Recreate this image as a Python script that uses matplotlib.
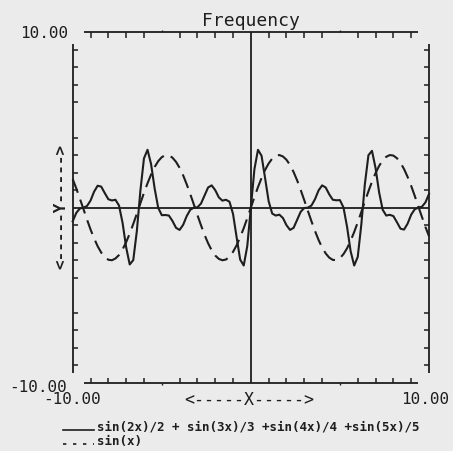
import matplotlib
matplotlib.use('Agg')
import matplotlib.pyplot as plt
from matplotlib.lines import Line2D

# sample positions along x
x_vals = [-10.0, -9.8, -9.6, -9.4, -9.2, -9.0, -8.8, -8.6, -8.4, -8.2,
          -8.0, -7.8, -7.6, -7.4, -7.2, -7.0, -6.8, -6.6, -6.4, -6.2,
          -6.0, -5.8, -5.6, -5.4, -5.2, -5.0, -4.8, -4.6, -4.4, -4.2,
          -4.0, -3.8, -3.6, -3.4, -3.2, -3.0, -2.8, -2.6, -2.4, -2.2,
          -2.0, -1.8, -1.6, -1.4, -1.2, -1.0, -0.8, -0.6, -0.4, -0.2,
          0.0, 0.2, 0.4, 0.6, 0.8, 1.0, 1.2, 1.4, 1.6, 1.8,
          2.0, 2.2, 2.4, 2.6, 2.8, 3.0, 3.2, 3.4, 3.6, 3.8,
          4.0, 4.2, 4.4, 4.6, 4.8, 5.0, 5.2, 5.4, 5.6, 5.8,
          6.0, 6.2, 6.4, 6.6, 6.8, 7.0, 7.2, 7.4, 7.6, 7.8,
          8.0, 8.2, 8.4, 8.6, 8.8, 9.0, 9.2, 9.4, 9.6, 9.8, 10.0]

# solid curve: sin(2x)/2 + sin(3x)/3 + sin(4x)/4 + sin(5x)/5
sum_vals = [-0.78, -0.30, -0.05, 0.00, 0.09, 0.40, 0.91, 1.25, 1.20, 0.83,
            0.48, 0.41, 0.45, 0.12, -0.87, -2.26, -3.24, -2.99, -1.34, 0.97,
            2.81, 3.30, 2.48, 1.09, -0.01, -0.43, -0.42, -0.45, -0.76, -1.15,
            -1.27, -0.98, -0.48, -0.12, 0.00, 0.02, 0.23, 0.69, 1.15, 1.27,
            1.00, 0.59, 0.40, 0.45, 0.34, -0.36, -1.68, -2.96, -3.30, -2.19,
            0.00, 2.19, 3.30, 2.96, 1.68, 0.36, -0.34, -0.45, -0.40, -0.59,
            -1.00, -1.27, -1.15, -0.69, -0.23, -0.02, 0.00, 0.12, 0.48, 0.98,
            1.27, 1.15, 0.76, 0.45, 0.42, 0.43, 0.01, -1.09, -2.48, -3.30,
            -2.81, -0.97, 1.34, 2.99, 3.24, 2.26, 0.87, -0.12, -0.45, -0.41,
            -0.48, -0.83, -1.20, -1.25, -0.91, -0.40, -0.09, 0.00, 0.05, 0.30, 0.78]

# dashed curve: sin(x)
sin_vals = [1.63, 1.10, 0.52, -0.07, -0.67, -1.24, -1.75, -2.20, -2.56, -2.82,
            -2.97, -3.00, -2.90, -2.70, -2.38, -1.97, -1.48, -0.93, -0.35, 0.25,
            0.84, 1.39, 1.89, 2.32, 2.65, 2.88, 2.99, 2.98, 2.85, 2.61,
            2.27, 1.84, 1.33, 0.77, 0.18, -0.42, -1.00, -1.55, -2.03, -2.43,
            -2.73, -2.92, -3.00, -2.96, -2.80, -2.52, -2.15, -1.69, -1.17, -0.60,
            0.00, 0.60, 1.17, 1.69, 2.15, 2.52, 2.80, 2.96, 3.00, 2.92,
            2.73, 2.43, 2.03, 1.55, 1.00, 0.42, -0.18, -0.77, -1.33, -1.84,
            -2.27, -2.61, -2.85, -2.98, -2.99, -2.88, -2.65, -2.32, -1.89, -1.39,
            -0.84, -0.25, 0.35, 0.93, 1.48, 1.97, 2.38, 2.70, 2.90, 3.00,
            2.97, 2.82, 2.56, 2.20, 1.75, 1.24, 0.67, 0.07, -0.52, -1.10, -1.63]

tick_pos = [-9, -8, -7, -6, -4, -3, -2, -1, 1, 2, 3, 4, 6, 7, 8, 9]
mid_ticks = [-5, 5]

title = 'Frequency'
x_label = '<-----X----->'
y_label = '<-----Y----->'
legend_labels = ['sin(2x)/2 + sin(3x)/3 +sin(4x)/4 +sin(5x)/5', 'sin(x)']

W, H = 453, 451
bg = '#ebebeb'
ink = '#1e1e1e'
mono = 'DejaVu Sans Mono'


def fx(px):
    return px / W


def fy(py):
    return 1 - py / H


fig = plt.figure(figsize=(W / 100, H / 100), dpi=100)
fig.patch.set_facecolor(bg)

ax = fig.add_axes([fx(72.7), fy(383), (429 - 72.7) / W, (383 - 32.3) / H])
ax.set_xlim(-10, 10)
ax.set_ylim(-10, 10)
ax.axis('off')

# frame lines (broken near the corners, like the plotter output)
kw = dict(color=ink, lw=1.3, clip_on=False, solid_capstyle='butt')
ax.plot([-9.38, 9.38], [10, 10], **kw)
ax.plot([-9.38, 9.38], [-10, -10], **kw)
ax.plot([-10, -10], [-9.45, 9.35], **kw)
ax.plot([10, 10], [-9.45, 9.35], **kw)
# centre axes
ax.plot([0, 0], [-10, 10], **kw)
ax.plot([-10, 10], [0, 0], **kw)

# inward ticks
tl = 0.3
ax.vlines(tick_pos, 10 - tl, 10, color=ink, lw=1.1, clip_on=False)
ax.vlines(tick_pos, -10, -10 + tl, color=ink, lw=1.1, clip_on=False)
ax.hlines(tick_pos, -10, -10 + tl, color=ink, lw=1.1, clip_on=False)
ax.hlines(tick_pos, 10 - tl, 10, color=ink, lw=1.1, clip_on=False)
# tiny outward marks at +-5
ax.vlines(mid_ticks, 10, 10 + 0.12, color=ink, lw=1.0, clip_on=False)
ax.vlines(mid_ticks, -10 - 0.12, -10, color=ink, lw=1.0, clip_on=False)

# curves
ax.plot(x_vals, sum_vals, color=ink, lw=1.5, clip_on=False)
ax.plot(x_vals, sin_vals, color=ink, lw=1.5, dashes=(7, 3.5), clip_on=False)

# texts
fig.text(fx(251), fy(21), title, ha='center', va='center', fontsize=13, family=mono, color=ink)
fig.text(fx(68), fy(34), '10.00', ha='right', va='center', fontsize=11.5, family=mono, color=ink)
fig.text(fx(67), fy(387), '-10.00', ha='right', va='center', fontsize=11.5, family=mono, color=ink)
fig.text(fx(72), fy(400), '-10.00', ha='center', va='center', fontsize=11.5, family=mono, color=ink)
fig.text(fx(425), fy(400), '10.00', ha='center', va='center', fontsize=11.5, family=mono, color=ink)
fig.text(fx(249), fy(400), x_label, ha='center', va='center', fontsize=12, family=mono, color=ink)
fig.text(fx(61), fy(206), y_label, ha='center', va='center', rotation=90, fontsize=11.5,
         family=mono, weight='bold', color=ink)

# legend under the plot
fig.add_artist(Line2D([fx(63), fx(94)], [fy(430), fy(430)], color=ink, lw=1.2,
                      transform=fig.transFigure))
fig.text(fx(97), fy(427), legend_labels[0], ha='left', va='center', fontsize=9,
         family=mono, weight='bold', color=ink)
fig.add_artist(Line2D([fx(63), fx(94)], [fy(444), fy(444)], color=ink, lw=1.2,
                      dashes=(2, 4), transform=fig.transFigure))
fig.text(fx(97), fy(441), legend_labels[1], ha='left', va='center', fontsize=9,
         family=mono, weight='bold', color=ink)

fig.savefig('out.png', dpi=100, facecolor=bg)
